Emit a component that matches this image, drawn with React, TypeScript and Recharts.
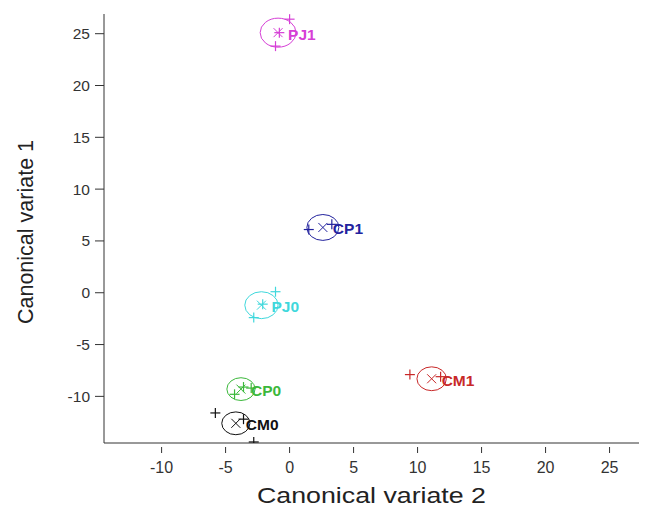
import { ScatterChart, Scatter, XAxis, YAxis } from 'recharts';

// group means (canonical variate 2 on x, canonical variate 1 on y)
const groups = ['PJ1', 'CP1', 'PJ0', 'CP0', 'CM0', 'CM1'];
const groupColors = ['#d63fd6', '#22229e', '#3fd8dc', '#3bb83b', '#111111', '#c82828'];
const meanX = [-0.9, 2.6, -2.2, -3.8, -4.2, 11.1];
const meanY = [25.1, 6.3, -1.2, -9.3, -12.6, -8.3];
const circleR = [1.4, 1.25, 1.3, 1.1, 1.1, 1.15];

// individual observations
const obsGroup = ['PJ1', 'PJ1', 'PJ1', 'CP1', 'CP1', 'PJ0', 'PJ0', 'PJ0', 'CP0', 'CP0', 'CP0', 'CM0', 'CM0', 'CM0', 'CM1', 'CM1'];
const obsX = [0.0, -1.1, -0.8, 1.5, 3.3, -1.1, -2.8, -2.1, -4.3, -3.0, -3.6, -5.8, -3.6, -2.8, 9.4, 11.8];
const obsY = [26.4, 23.8, 25.1, 6.1, 6.6, 0.1, -2.4, -1.1, -9.8, -9.2, -9.1, -11.6, -12.2, -14.4, -7.9, -8.1];

const xTicks = [-10, -5, 0, 5, 10, 15, 20, 25];
const yTicks = [-10, -5, 0, 5, 10, 15, 20, 25];

const X_MIN = -14.5;
const X_MAX = 27.3;
const Y_MIN = -14.5;
const Y_MAX = 26.9;

const W = 645;
const H = 510;
const LEFT = 104;
const RIGHT = 6;
const TOP = 14;
const XAXIS_H = 67;
const PX_X = (W - LEFT - RIGHT) / (X_MAX - X_MIN);
const PX_Y = (H - TOP - XAXIS_H) / (Y_MAX - Y_MIN);

const AXIS = '#333333';
const FONT = '"Liberation Sans", Arial, sans-serif';

const meanData = groups.map((g, i) => ({
  name: g,
  x: meanX[i],
  y: meanY[i],
  r: circleR[i],
  color: groupColors[i],
}));

const obsData = obsGroup.map((g, i) => ({
  name: g,
  x: obsX[i],
  y: obsY[i],
  color: groupColors[groups.indexOf(g)],
}));

const MeanShape = (props: any) => {
  const { cx, cy, payload } = props;
  const d = 4.5;
  return (
    <g>
      <ellipse cx={cx} cy={cy} rx={payload.r * PX_X} ry={payload.r * PX_Y} fill="none" stroke={payload.color} strokeWidth={1} />
      <line x1={cx - d} y1={cy - d} x2={cx + d} y2={cy + d} stroke={payload.color} strokeWidth={1} />
      <line x1={cx - d} y1={cy + d} x2={cx + d} y2={cy - d} stroke={payload.color} strokeWidth={1} />
      <text x={cx + 10} y={cy + 7} fill={payload.color} fontSize={15.5} fontWeight="bold" fontFamily={FONT}>
        {payload.name}
      </text>
    </g>
  );
};

const PlusShape = (props: any) => {
  const { cx, cy, payload } = props;
  const d = 5;
  return (
    <g>
      <line x1={cx - d} y1={cy} x2={cx + d} y2={cy} stroke={payload.color} strokeWidth={1.2} />
      <line x1={cx} y1={cy - d} x2={cx} y2={cy + d} stroke={payload.color} strokeWidth={1.2} />
    </g>
  );
};

const XTick = (props: any) => {
  const { x, y, payload } = props;
  return (
    <g>
      <line x1={x} x2={x} y1={y + 4} y2={y + 10} stroke={AXIS} />
      <text x={x} y={y + 30} textAnchor="middle" fill={AXIS} fontSize={16} fontFamily={FONT}>
        {payload.value}
      </text>
    </g>
  );
};

export default function App() {
  return (
    <div style={{ position: 'fixed', left: 0, top: 0, background: '#fff' }}>
      <ScatterChart width={W} height={H} margin={{ top: TOP, right: RIGHT, bottom: 0, left: 0 }}>
        <XAxis
          type="number"
          dataKey="x"
          domain={[X_MIN, X_MAX]}
          ticks={xTicks}
          allowDataOverflow
          height={XAXIS_H}
          stroke={AXIS}
          tickSize={0}
          tickMargin={0}
          tick={<XTick />}
          label={{
            content: () => (
              <text x={LEFT + (W - LEFT - RIGHT) / 2} y={503} textAnchor="middle" fill="#222" fontSize={22} fontFamily={FONT} textLength={229} lengthAdjust="spacingAndGlyphs">
                Canonical variate 2
              </text>
            ),
          }}
        />
        <YAxis
          type="number"
          dataKey="y"
          domain={[Y_MIN, Y_MAX]}
          ticks={yTicks}
          allowDataOverflow
          width={LEFT}
          stroke={AXIS}
          tickSize={9}
          tickMargin={5}
          tick={{ fill: AXIS, fontSize: 15.5, fontFamily: FONT }}
          label={{
            content: () => (
              <text x={33} y={232} transform="rotate(-90, 33, 232)" textAnchor="middle" fill="#222" fontSize={21.5} fontFamily={FONT}>
                Canonical variate 1
              </text>
            ),
          }}
        />
        <Scatter data={obsData} shape={<PlusShape />} isAnimationActive={false} />
        <Scatter data={meanData} shape={<MeanShape />} isAnimationActive={false} />
      </ScatterChart>
    </div>
  );
}
